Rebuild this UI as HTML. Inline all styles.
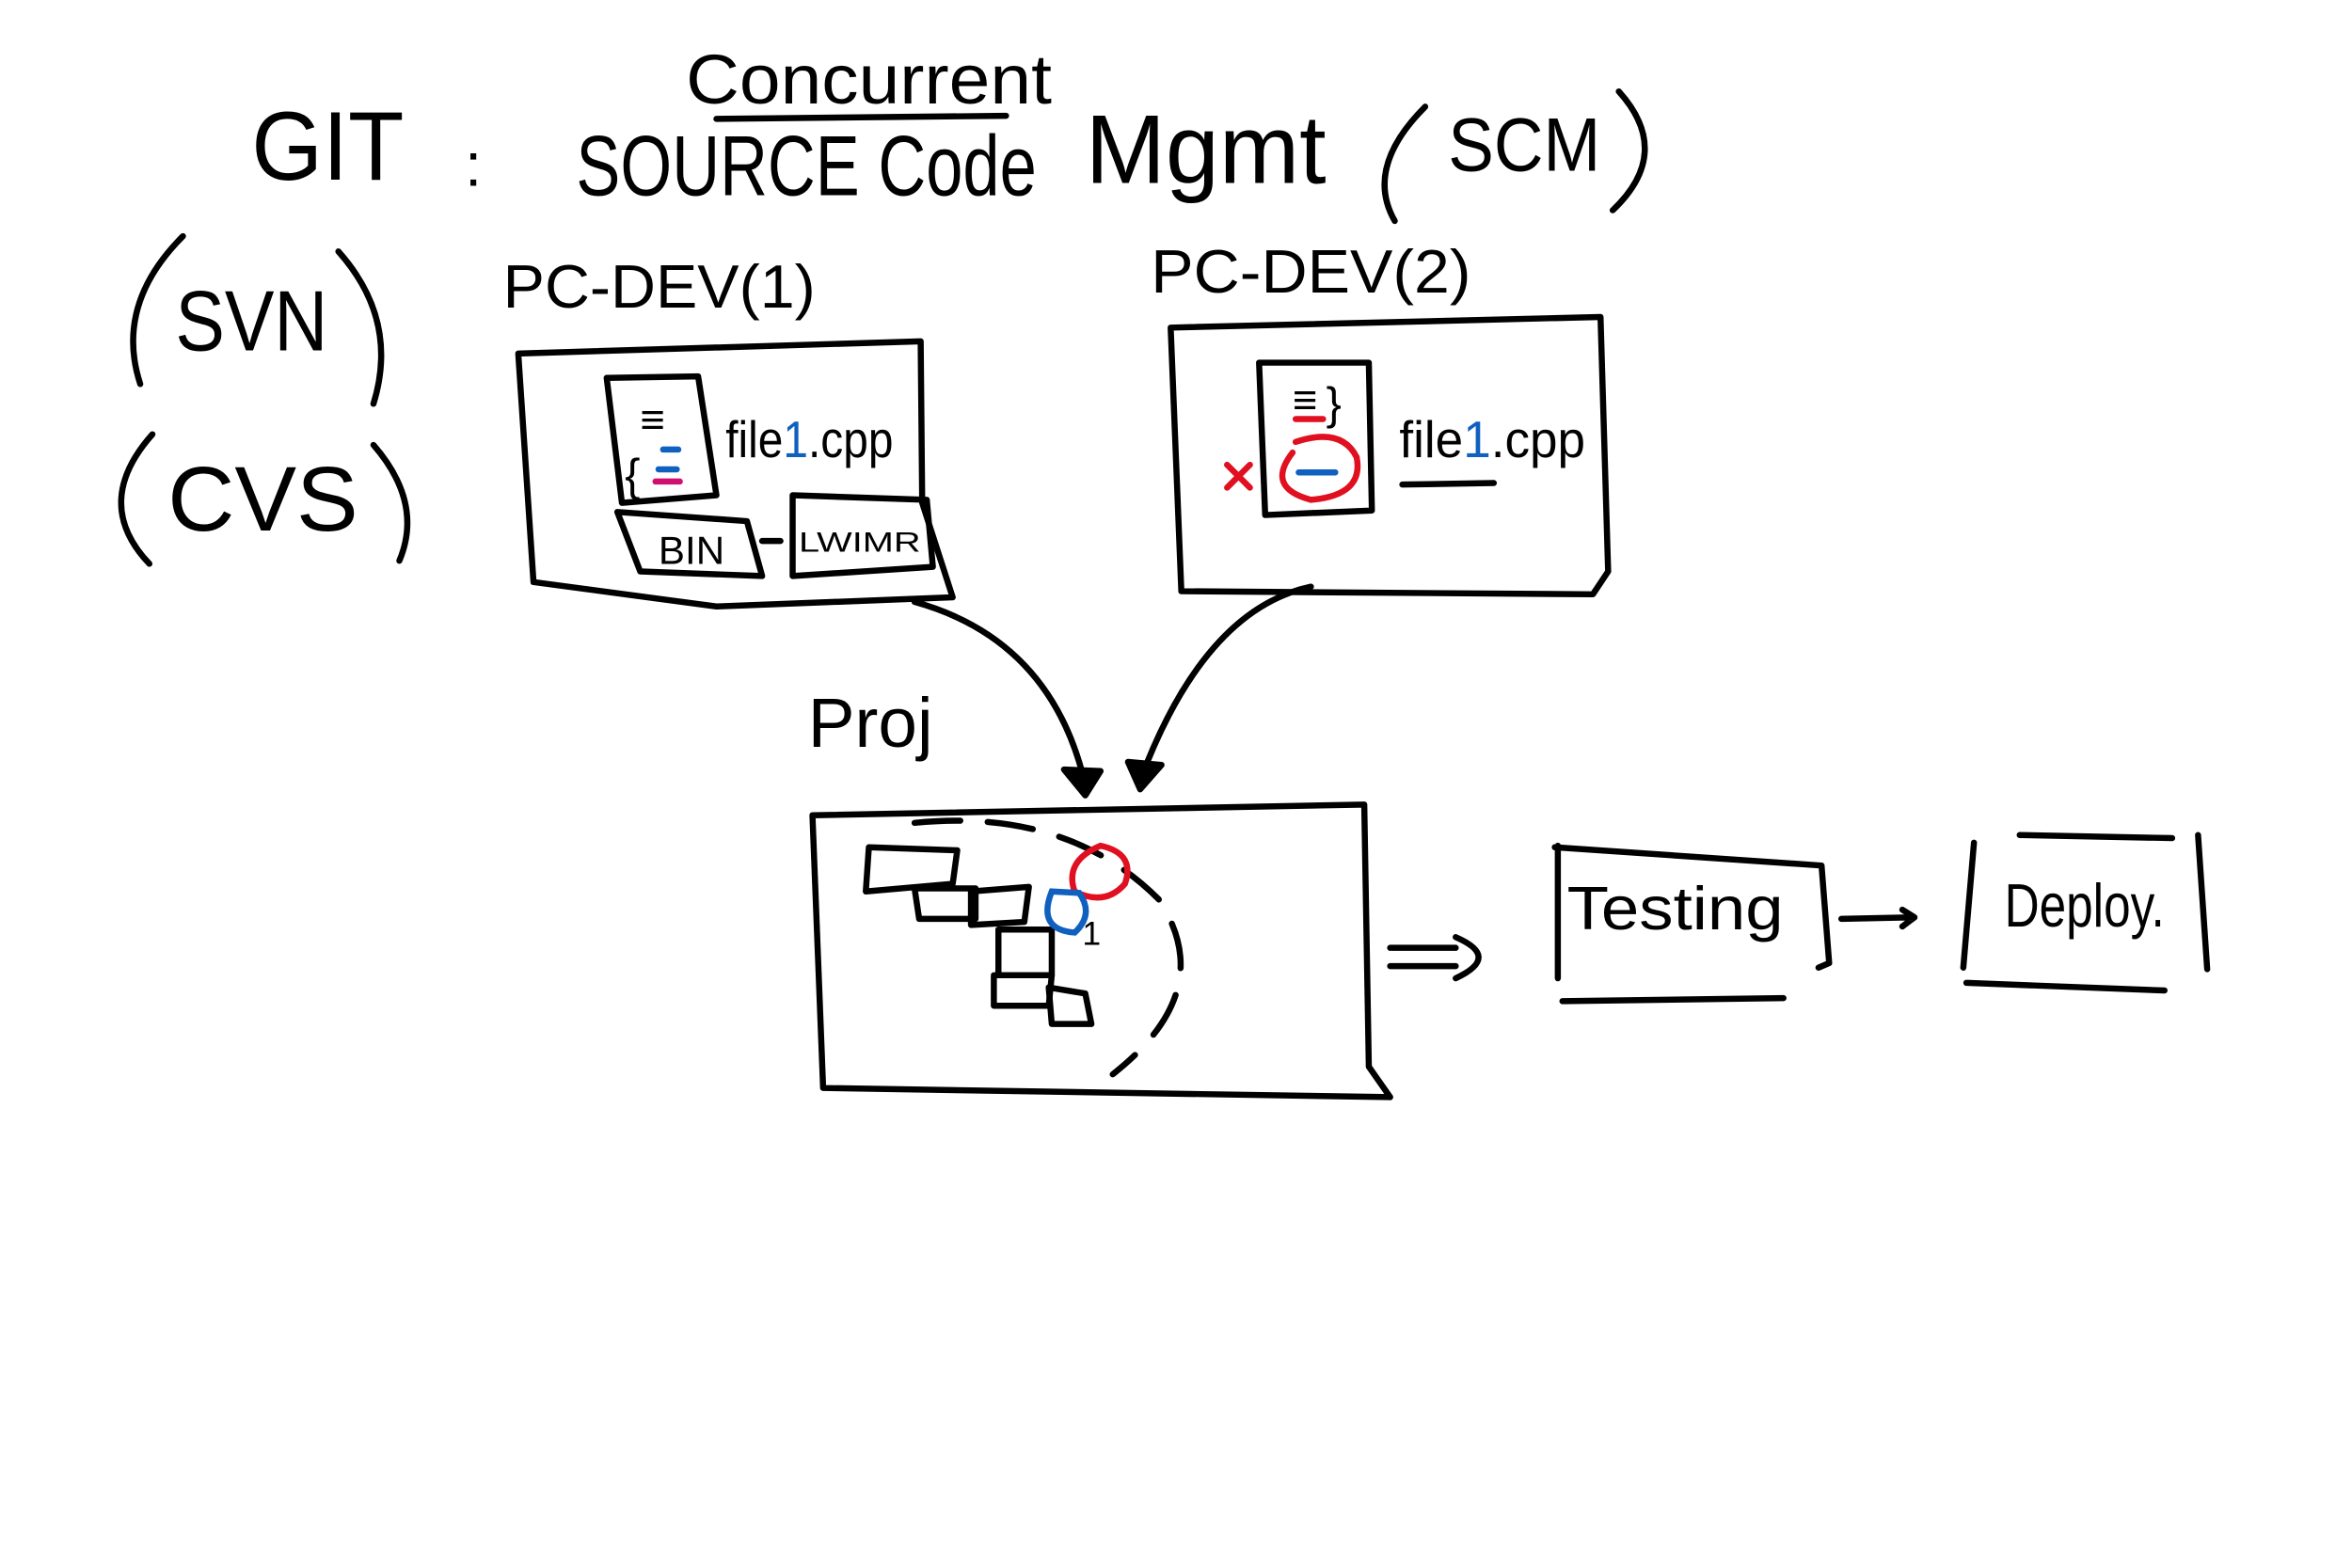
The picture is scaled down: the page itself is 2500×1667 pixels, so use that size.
<!DOCTYPE html>
<html><head><meta charset="utf-8"><style>
html,body{margin:0;padding:0;background:#fff;}
svg{display:block}
text{font-family:"Liberation Sans",sans-serif;fill:#000}
</style></head><body>
<svg width="2500" height="1667" viewBox="0 0 1543 1029" preserveAspectRatio="none" xmlns="http://www.w3.org/2000/svg">
<rect width="1543" height="1029" fill="#fff"/>
<g fill="none" stroke="#000" stroke-width="4" stroke-linecap="round" stroke-linejoin="round">
<path d="M470 78 L660 76"/>
<path d="M120 155 Q75 200 92 252"/><path d="M222 165 Q262 210 245 265"/>
<path d="M100 285 Q60 330 98 370"/><path d="M245 292 Q278 330 262 368"/>
<path d="M935 70 Q895 110 915 145"/><path d="M1062 60 Q1098 100 1058 138"/>
<path d="M340 232 L604 224 L605 330 L625 392 L470 398 L350 382 L340 232"/>
<path d="M398 248 L458 247 L470 325 L408 330 Z"/>
<path d="M405 336 L490 342 L500 378 L420 375 Z"/>
<path d="M520 325 L608 328 L612 372 L520 378 Z"/>
<path d="M500 355 L512 355"/>
<path d="M768 215 L1050 208 L1055 375 L1045 390 L775 388 L768 215"/>
<path d="M826 238 L898 238 L900 335 L830 338 Z"/>
<path d="M920 318 L980 317"/>
<path d="M533 535 L895 528 L898 700 L912 720 L540 714 Z"/>
<path d="M570 556 L628 558 L625 580 L568 585 Z"/>
<path d="M600 583 L640 583 L640 603 L603 603 Z"/>
<path d="M637 585 L675 582 L672 605 L637 607 Z"/>
<path d="M655 610 L690 610 L690 640 L655 640 Z"/>
<path d="M652 640 L690 640 L688 660 L652 660 Z"/>
<path d="M688 648 L712 652 L716 672 L690 672 Z"/>
<path d="M600 540 Q700 530 760 590 Q800 650 730 705" stroke-dasharray="30 18"/>
<path d="M600 395 Q690 420 712 515"/><path d="M698 505 L712 522 L722 506 Z" fill="#000"/>
<path d="M860 385 Q790 400 748 512"/><path d="M740 500 L748 518 L762 502 Z" fill="#000"/>
<path d="M912 622 L955 622 M912 634 L955 634 M955 615 Q985 628 955 642"/>
<path d="M1022 555 L1022 642"/><path d="M1020 556 L1195 568 L1200 632 L1193 635"/>
<path d="M1025 657 L1170 655"/>
<path d="M1208 603 L1255 602 M1248 597 L1256 602 L1248 608"/>
<path d="M1295 553 L1288 635"/><path d="M1325 548 L1425 550"/>
<path d="M1442 548 L1448 636"/><path d="M1290 645 L1420 650"/>
</g>
<g fill="none" stroke-width="4" stroke-linecap="round">
<path d="M848 297 Q830 320 860 328 Q895 325 890 300 Q880 280 850 290" stroke="#e01020"/>
<path d="M805 305 L820 320 M820 305 L805 320" stroke="#e01020"/>
<path d="M850 275 L868 275" stroke="#e01020"/>
<path d="M722 555 Q745 560 738 580 Q725 595 705 585 Q698 565 722 555" stroke="#e01020"/>
<path d="M690 585 Q680 610 705 612 Q718 600 708 586 Z" stroke="#1060c0"/>
<path d="M435 295 L445 295 M432 308 L444 308" stroke="#1060c0"/>
<path d="M430 316 L446 316" stroke="#d01070"/>
<path d="M852 310 L876 310" stroke="#1060c0"/>
</g>
<g>
<text x="165" y="118" font-size="64" textLength="100" lengthAdjust="spacingAndGlyphs">GIT</text>
<text x="305" y="122" font-size="40">:</text>
<text x="378" y="128" font-size="56" textLength="302" lengthAdjust="spacingAndGlyphs">SOURCE Code</text>
<text x="712" y="120" font-size="64" textLength="158" lengthAdjust="spacingAndGlyphs">Mgmt</text>
<text x="950" y="112" font-size="50" textLength="100" lengthAdjust="spacingAndGlyphs">SCM</text>
<text x="450" y="68" font-size="46" textLength="240" lengthAdjust="spacingAndGlyphs">Concurrent</text>
<text x="115" y="230" font-size="56" textLength="100" lengthAdjust="spacingAndGlyphs">SVN</text>
<text x="110" y="348" font-size="60" textLength="125" lengthAdjust="spacingAndGlyphs">CVS</text>
<text x="330" y="202" font-size="40" textLength="205" lengthAdjust="spacingAndGlyphs">PC-DEV(1)</text>
<text x="755" y="192" font-size="40" textLength="210" lengthAdjust="spacingAndGlyphs">PC-DEV(2)</text>
<text x="476" y="300" font-size="34" textLength="110" lengthAdjust="spacingAndGlyphs">file<tspan fill="#1060c0">1</tspan>.cpp</text>
<text x="918" y="300" font-size="34" textLength="122" lengthAdjust="spacingAndGlyphs">file<tspan fill="#1060c0">1</tspan>.cpp</text>
<text x="432" y="370" font-size="26">BIN</text>
<text x="524" y="362" font-size="18" textLength="80" lengthAdjust="spacingAndGlyphs">LWIMR</text>
<text x="530" y="490" font-size="46" textLength="82" lengthAdjust="spacingAndGlyphs">Proj</text>
<text x="1028" y="610" font-size="40" textLength="142" lengthAdjust="spacingAndGlyphs">Testing</text>
<text x="1315" y="608" font-size="40" textLength="105" lengthAdjust="spacingAndGlyphs">Deploy.</text>
<text x="420" y="285" font-size="28">≡</text>
<text x="848" y="272" font-size="28" fill="#e01020">≡</text>
<text x="410" y="322" font-size="30" fill="#1060c0">{</text>
<text x="870" y="275" font-size="30" fill="#1060c0">}</text>
<text x="710" y="620" font-size="22" fill="#1060c0">1</text>
</g>
</svg>
</body></html>
